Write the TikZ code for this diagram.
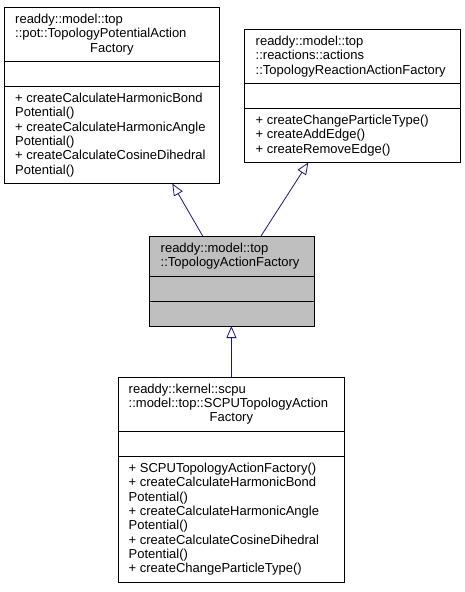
\documentclass[tikz,border=0pt]{standalone}
\usepackage{fontspec}
\setmainfont{Liberation Sans}
\usetikzlibrary{arrows.meta}
\definecolor{edgeblue}{HTML}{191970}
\definecolor{boxgray}{HTML}{BFBFBF}
\begin{document}
\begin{tikzpicture}[x=1pt,y=-1pt,
  classbox/.style={draw=black, line width=0.8pt, rectangle, inner sep=0pt,
    outer sep=0pt, anchor=north west},
  divider/.style={draw=black, line width=0.8pt},
  txt/.style={inner sep=0pt, anchor=base west, font=\fontsize{13}{14.35}\selectfont},
  ctr/.style={inner sep=0pt, anchor=base, font=\fontsize{13}{14.35}\selectfont},
  inherit/.style={draw=edgeblue, line width=0.8pt,
    -{Triangle[open, length=12pt, width=10pt]}}]
\useasboundingbox (0,0) rectangle (465,592);

% class boxes
\node[classbox, minimum width=214.8pt, minimum height=176.5pt] (A) at (4.5,7) {};
\node[classbox, minimum width=216pt, minimum height=133.5pt] (B) at (244,29) {};
\node[classbox, fill=boxgray, minimum width=165pt, minimum height=90pt] (C) at (149,236) {};
\node[classbox, minimum width=226.2pt, minimum height=205pt] (D) at (118.3,377) {};

% compartment separators
\draw[divider] ([yshift=-54pt]A.north west) -- ([yshift=-54pt]A.north east);
\draw[divider] ([yshift=-79pt]A.north west) -- ([yshift=-79pt]A.north east);
\draw[divider] ([yshift=-54pt]B.north west) -- ([yshift=-54pt]B.north east);
\draw[divider] ([yshift=-79pt]B.north west) -- ([yshift=-79pt]B.north east);
\draw[divider] ([yshift=-40pt]C.north west) -- ([yshift=-40pt]C.north east);
\draw[divider] ([yshift=-65pt]C.north west) -- ([yshift=-65pt]C.north east);
\draw[divider] ([yshift=-54pt]D.north west) -- ([yshift=-54pt]D.north east);
\draw[divider] ([yshift=-79pt]D.north west) -- ([yshift=-79pt]D.north east);

% TopologyPotentialActionFactory
\node[txt] (Atitle) at (15,23.3) {\begin{tabular}[t]{@{}l@{}}readdy::model::top\\::pot::TopologyPotentialAction\end{tabular}};
\node[ctr] (Atitle2) at (111.9,52) {Factory};
\node[txt] (Aops) at (15,102.3) {\begin{tabular}[t]{@{}l@{}}%
+ createCalculateHarmonicBond\\Potential()\\%
+ createCalculateHarmonicAngle\\Potential()\\%
+ createCalculateCosineDihedral\\Potential()\end{tabular}};

% TopologyReactionActionFactory
\node[txt] (Btitle) at (255.5,45.3) {\begin{tabular}[t]{@{}l@{}}readdy::model::top\\::reactions::actions\\::TopologyReactionActionFactory\end{tabular}};
\node[txt] (Bops) at (255.5,124.3) {\begin{tabular}[t]{@{}l@{}}%
+ createChangeParticleType()\\%
+ createAddEdge()\\%
+ createRemoveEdge()\end{tabular}};

% TopologyActionFactory
\node[txt] (Ctitle) at (160.5,252.3) {\begin{tabular}[t]{@{}l@{}}readdy::model::top\\::TopologyActionFactory\end{tabular}};

% SCPUTopologyActionFactory
\node[txt] (Dtitle) at (128.5,393) {\begin{tabular}[t]{@{}l@{}}readdy::kernel::scpu\\::model::top::SCPUTopologyAction\end{tabular}};
\node[ctr] (Dtitle2) at (231.4,421.7) {Factory};
\node[txt] (Dops) at (128.5,472.3) {\begin{tabular}[t]{@{}l@{}}%
+ SCPUTopologyActionFactory()\\%
+ createCalculateHarmonicBond\\Potential()\\%
+ createCalculateHarmonicAngle\\Potential()\\%
+ createCalculateCosineDihedral\\Potential()\\%
+ createChangeParticleType()\end{tabular}};

% inheritance arrows
\draw[inherit] ([xshift=53.7pt]C.north west) -- ([xshift=167.8pt]A.south west);
\draw[inherit] ([xshift=112pt]C.north west) -- ([xshift=64.3pt]B.south west);
\draw[inherit] (D.north) -- (D.north |- C.south);
\end{tikzpicture}
\end{document}
